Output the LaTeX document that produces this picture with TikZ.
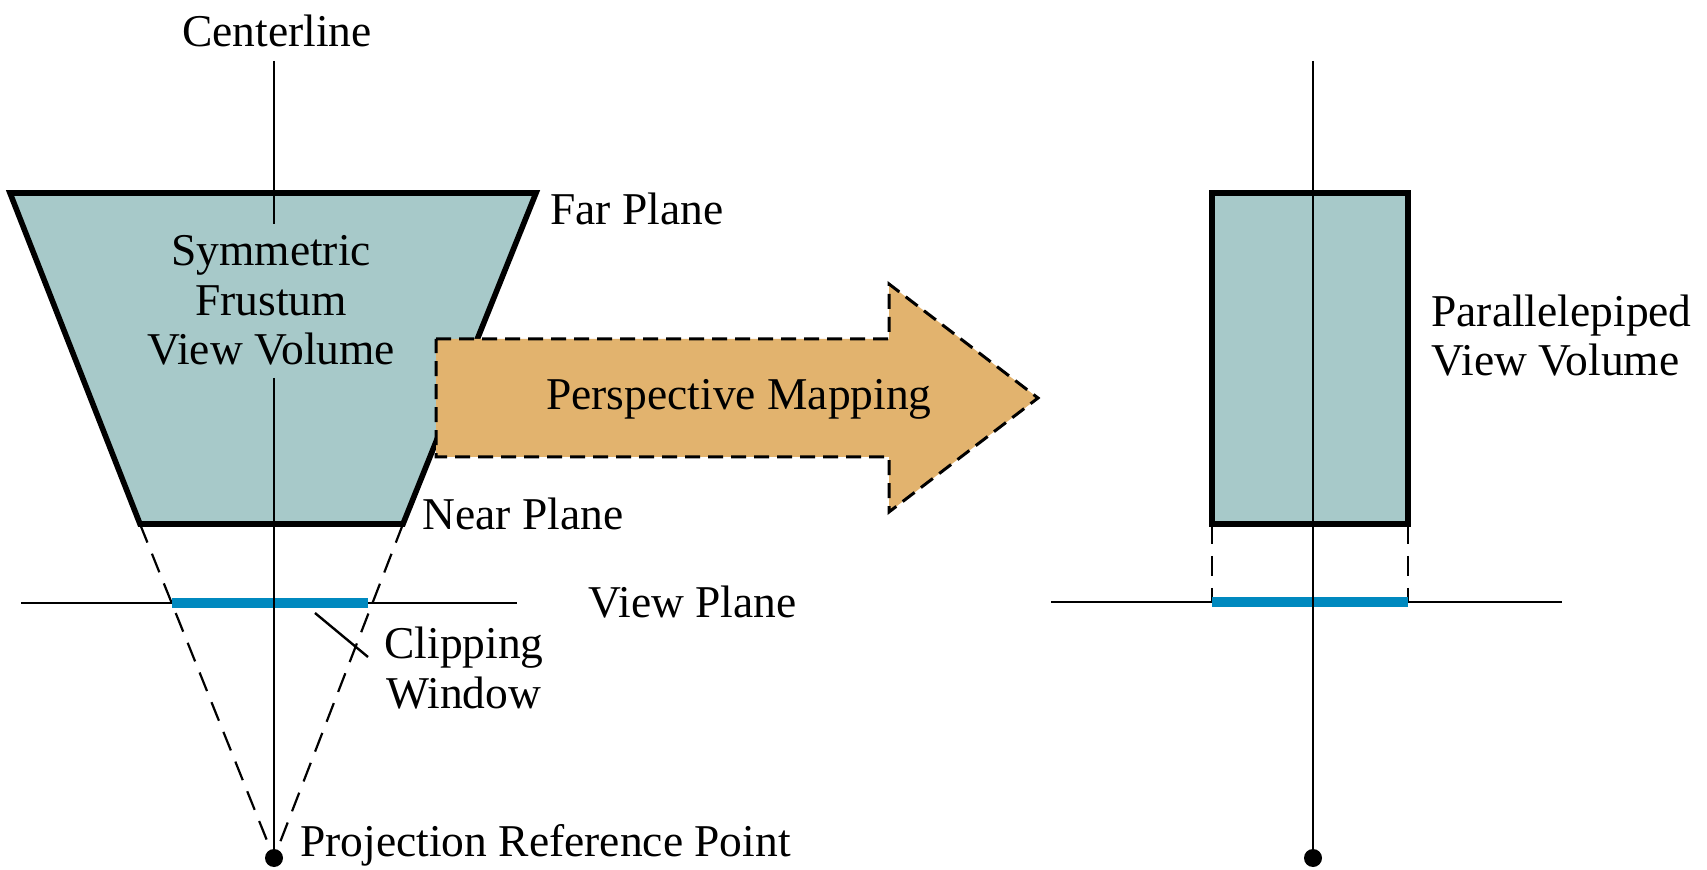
\documentclass[tikz,border=0pt]{standalone}
\usepackage{fontspec}
\setmainfont{Liberation Serif}
\definecolor{volfill}{RGB}{167,201,201}
\definecolor{arrowfill}{RGB}{226,179,110}
\definecolor{clipblue}{RGB}{0,137,191}
\begin{document}
\begin{tikzpicture}[x=0.5pt,y=-0.5pt,
  lbl/.style={inner sep=0pt,font=\fontsize{22.75}{27}\selectfont},
  volume/.style={fill=volfill,draw=black,line width=2.8pt,line join=miter},
  thinline/.style={line width=1pt},
  planeline/.style={line width=1.3pt},
  projdash/.style={line width=1.1pt,dash pattern=on 10pt off 6pt},
  mapdash/.style={line width=1.5pt,dash pattern=on 7.5pt off 4pt},
  clipwin/.style={draw=clipblue,line width=5pt},
  dotmark/.style={fill=black,circle,inner sep=0pt,minimum size=9pt}]
\useasboundingbox (0,0) rectangle (1707,870);
% key points
\coordinate (FTL) at (10,193);
\coordinate (FTR) at (536,193);
\coordinate (FBR) at (403,524);
\coordinate (FBL) at (140,524);
\coordinate (LTop) at (274,61);
\coordinate (LGapA) at (274,224);
\coordinate (LGapB) at (274,378);
\node[dotmark] (PRP) at (274,858) {};
\coordinate (RTop) at (1313,61);
\node[dotmark] (PRP2) at (1313,858) {};
\coordinate (VPL1) at (21,603);
\coordinate (VPL2) at (517,603);
\coordinate (CWL1) at (172,603);
\coordinate (CWL2) at (368,603);
\coordinate (VPR1) at (1051,602);
\coordinate (VPR2) at (1562,602);
\coordinate (BTL) at (1212,193);
\coordinate (BBR) at (1408,524);
\coordinate (BBL) at (1212,524);
\coordinate (CWR1) at (1212,602);
\coordinate (CWR2) at (1408,602);
\coordinate (LeadA) at (315,613);
\coordinate (LeadB) at (368,657);
% frustum
\draw[volume] (FTL) -- (FTR) -- (FBR) -- (FBL) -- cycle;
% parallelepiped
\draw[volume] (BTL) rectangle (BBR);
% projection lines
\draw[projdash] (FBL) -- (PRP.center);
\draw[projdash] (FBR) -- (PRP.center);
\draw[projdash] (BBL) -- (CWR1);
\draw[projdash] (BBR) -- (CWR2);
% view planes
\draw[planeline] (VPL1) -- (VPL2);
\draw[planeline] (VPR1) -- (VPR2);
\draw[clipwin] (CWL1) -- (CWL2);
\draw[clipwin] (CWR1) -- (CWR2);
% centerlines
\draw[thinline] (LTop) -- (LGapA);
\draw[thinline] (LGapB) -- (PRP.center);
\draw[thinline] (RTop) -- (PRP2.center);
% leader
\draw[line width=1.2pt] (LeadA) -- (LeadB);
% mapping arrow
\draw[mapdash,fill=arrowfill,line join=miter]
  (436,339) -- (889,339) -- (889,284) -- (1038,398) -- (889,512) -- (889,457) -- (436,457) -- cycle;
% labels
\node[lbl,anchor=base] (tCenter) at (277,47) {Centerline};
\node[lbl,anchor=base west] (tFar) at (550,225) {Far Plane};
\node[lbl,anchor=base] (tSym) at (271,266) {Symmetric};
\node[lbl,anchor=base] (tFru) at (271,316) {Frustum};
\node[lbl,anchor=base] (tVV) at (271,365) {View Volume};
\node[lbl,anchor=base] (tMap) at (739,410) {Perspective Mapping};
\node[lbl,anchor=base west] (tPar) at (1431,327) {Parallelepiped};
\node[lbl,anchor=base west] (tPVV) at (1431,376) {View Volume};
\node[lbl,anchor=base west] (tNear) at (422,530) {Near Plane};
\node[lbl,anchor=base west] (tView) at (588,618) {View Plane};
\node[lbl,anchor=base west] (tClip) at (384,659) {Clipping};
\node[lbl,anchor=base west] (tWin) at (386,708) {Window};
\node[lbl,anchor=base west] (tPRP) at (300,856) {Projection Reference Point};
\end{tikzpicture}
\end{document}
